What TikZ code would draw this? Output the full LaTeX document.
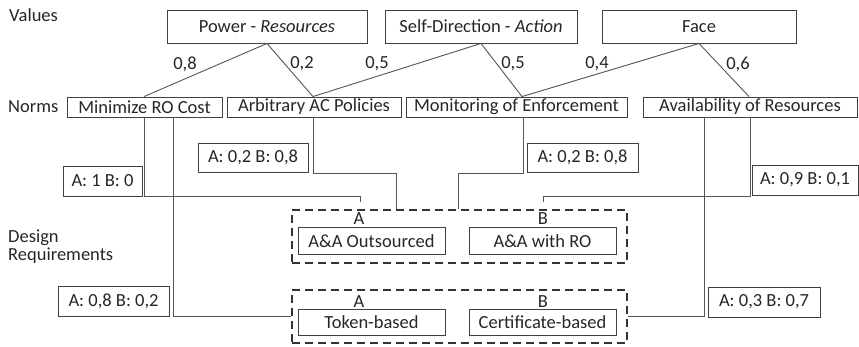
\documentclass[tikz,border=0pt]{standalone}
\usepackage{fontspec}
\setmainfont{Carlito}
\usetikzlibrary{calc}
\definecolor{txt}{HTML}{262626}
\definecolor{bord}{HTML}{404040}
\definecolor{conn}{HTML}{555555}
\tikzset{
  box/.style={draw=bord, line width=0.9pt, inner sep=0pt, text=txt, font=\fontsize{18.5}{20}\selectfont, anchor=center},
  wbox/.style={box},
  lbl/.style={inner sep=0pt, text=txt, font=\fontsize{18.5}{20}\selectfont},
  conline/.style={draw=conn, line width=0.9pt},
  grp/.style={draw=bord!80!black, line width=2pt, dash pattern=on 8pt off 5pt, inner sep=0pt},
}
\begin{document}
\begin{tikzpicture}[x=1pt, y=-1pt]
\useasboundingbox (0,0) rectangle (859,346);
% side labels
\node[lbl, anchor=west] (lv) at (9,15) {Values};
\node[lbl, anchor=west] (ln) at (8,107) {Norms};
\node[lbl, anchor=west, align=left] (ld) at (8,247) {Design\\[-2pt]Requirements};
% values
\node[box, minimum width=200pt, minimum height=33pt] (pw) at (267,26.5) {Power - \textit{Resources}};
\node[box, minimum width=192pt, minimum height=33pt] (sd) at (481,26.5) {Self-Direction - \textit{Action}};
\node[box, minimum width=194pt, minimum height=33pt] (fc) at (699,26.5) {Face};
% norms
\node[box, minimum width=155pt, minimum height=20pt] (mi) at (144.5,107) {Minimize RO Cost};
\node[box, minimum width=174pt, minimum height=20pt] (ar) at (314,107) {Arbitrary AC Policies};
\node[box, minimum width=221pt, minimum height=20pt] (mo) at (516.5,107) {Monitoring of Enforcement};
\node[box, minimum width=214pt, minimum height=20pt] (av) at (750,107) {Availability of Resources};
% value-norm links
\draw[conline] (pw.south) -- ([xshift=-0.5pt]mi.north);
\draw[conline] (pw.south) -- ([xshift=-1pt]ar.north);
\draw[conline] (sd.south) -- ([xshift=-1pt]ar.north);
\draw[conline] (sd.south) -- ([xshift=5.5pt]mo.north);
\draw[conline] (fc.south) -- ([xshift=5.5pt]mo.north);
\draw[conline] (fc.south) -- ([xshift=-1pt]av.north);
\node[lbl] (e1) at (185,64) {0,8};
\node[lbl] (e2) at (302,64) {0,2};
\node[lbl] (e3) at (377,64) {0,5};
\node[lbl] (e4) at (513,64) {0,5};
\node[lbl] (e5) at (597,64) {0,4};
\node[lbl] (e6) at (738,64) {0,6};
% design requirement groups
\node[grp, minimum width=335pt, minimum height=53pt] (g1) at (459.5,236.5) {};
\node[grp, minimum width=335pt, minimum height=53pt] (g2) at (459.5,316.5) {};
\node[box, minimum width=147pt, minimum height=27pt] (o1) at (371.5,241) {A\&A Outsourced};
\node[box, minimum width=147pt, minimum height=27pt] (o2) at (542.5,241) {A\&A with RO};
\node[box, minimum width=147pt, minimum height=26pt] (t1) at (371.5,322) {Token-based};
\node[box, minimum width=147pt, minimum height=26pt] (t2) at (542.5,322) {Certificate-based};
\node[lbl] (a1) at (359,219) {A};
\node[lbl] (b1) at (543,219) {B};
\node[lbl] (a2) at (359,302) {A};
\node[lbl] (b2) at (543,302) {B};
\coordinate (a1t) at (360,202);
\coordinate (b1t) at (543,202);
% weight boxes
\node[wbox, minimum width=79pt, minimum height=30pt] (w1) at (102.5,181) {A: 1 B: 0};
\node[wbox, minimum width=110pt, minimum height=29pt] (w2) at (253,157.5) {A: 0,2 B: 0,8};
\node[wbox, minimum width=111pt, minimum height=29pt] (w3) at (582.5,157.5) {A: 0,2 B: 0,8};
\node[wbox, minimum width=106pt, minimum height=30pt] (w4) at (805,180) {A: 0,9 B: 0,1};
\node[wbox, minimum width=111pt, minimum height=30pt] (w5) at (113.5,301) {A: 0,8 B: 0,2};
\node[wbox, minimum width=112pt, minimum height=30pt] (w6) at (764,302) {A: 0,3 B: 0,7};
% norm-design links
\coordinate (j1) at (144,196);
\draw[conline] ([xshift=-0.5pt]mi.south) -- (j1) -| (a1t);
\coordinate (j2) at (173,117);
\draw[conline] (j2) |- (g2.west);
\coordinate (j3) at (396,173);
\draw[conline] ([xshift=-1pt]ar.south) |- (j3) -- (j3 |- g1.north);
\coordinate (j4) at (458,173);
\draw[conline] ([xshift=6.5pt]mo.south) |- (j4) -- (j4 |- g1.north);
\coordinate (j5) at (750,196);
\draw[conline] (av.south) -- (j5) -| (b1t);
\coordinate (j6) at (704,117);
\draw[conline] (j6) |- (g2.east);
\end{tikzpicture}
\end{document}
